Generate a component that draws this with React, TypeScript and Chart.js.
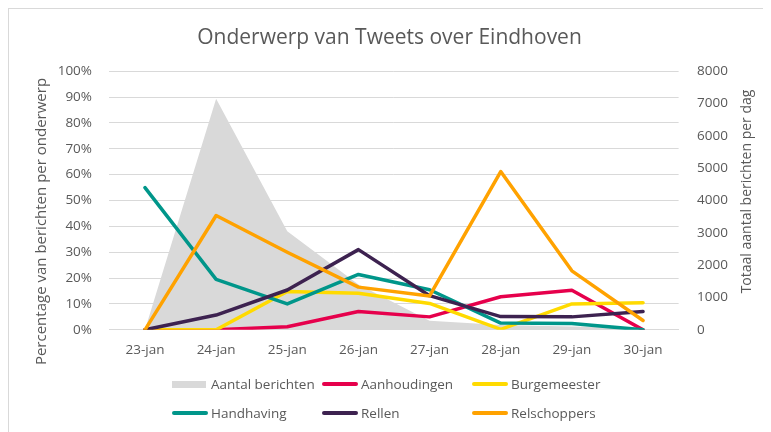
import React, { useEffect, useRef } from "react";
import { Chart, registerables } from "chart.js";

Chart.register(...registerables);

const categories = ["23-jan", "24-jan", "25-jan", "26-jan", "27-jan", "28-jan", "29-jan", "30-jan"];
const aantalBerichten = [0, 7150, 3050, 1400, 280, 150, 100, 60];
const aanhoudingen = [0, 0, 0.012, 0.071, 0.05, 0.128, 0.153, 0];
const burgemeester = [0, 0, 0.148, 0.141, 0.102, 0.002, 0.1, 0.105];
const handhaving = [0.55, 0.195, 0.1, 0.214, 0.155, 0.026, 0.024, 0];
const rellen = [0, 0.057, 0.154, 0.31, 0.132, 0.051, 0.05, 0.071];
const relschoppers = [0, 0.442, 0.3, 0.165, 0.131, 0.612, 0.228, 0.036];
const percentTicks = [0, 0.1, 0.2, 0.3, 0.4, 0.5, 0.6, 0.7, 0.8, 0.9, 1];
const countTicks = [0, 1000, 2000, 3000, 4000, 5000, 6000, 7000, 8000];

const TITLE = "Onderwerp van Tweets over Eindhoven";
const LEFT_TITLE = "Percentage van berichten per onderwerp";
const RIGHT_TITLE = "Totaal aantal berichten per dag";

const FONT = '"Open Sans", "Noto Sans", sans-serif';
const TEXT = "#595959";
const GRID = "#D9D9D9";

const lineSeries = [
  { label: "Aanhoudingen", data: aanhoudingen, color: "#E6004C" },
  { label: "Burgemeester", data: burgemeester, color: "#FFDA00" },
  { label: "Handhaving", data: handhaving, color: "#00968A" },
  { label: "Rellen", data: rellen, color: "#3D2250" },
  { label: "Relschoppers", data: relschoppers, color: "#FFA200" },
];

const legendItems = [
  { label: "Aantal berichten", color: "#D9D9D9", area: true },
  ...lineSeries.map((s) => ({ label: s.label, color: s.color, area: false })),
];

const axisTitlePlugin = {
  id: "axisTitles",
  afterDraw(chart: any) {
    const { ctx, chartArea } = chart;
    const ys = chart.scales.y;
    const y1 = chart.scales.y1;
    const midY = (chartArea.top + chartArea.bottom) / 2;
    ctx.save();
    ctx.fillStyle = TEXT;
    ctx.textAlign = "center";
    ctx.textBaseline = "middle";
    ctx.save();
    ctx.font = `15px ${FONT}`;
    ctx.translate(ys.left + 34, midY + 21);
    ctx.rotate(-Math.PI / 2);
    ctx.fillText(LEFT_TITLE, 0, 0);
    ctx.restore();
    ctx.save();
    ctx.font = `14px ${FONT}`;
    ctx.translate(y1.left + 68, midY - 9);
    ctx.rotate(-Math.PI / 2);
    ctx.fillText(RIGHT_TITLE, 0, 0);
    ctx.restore();
    ctx.restore();
  },
};

export default function App() {
  const ref = useRef<HTMLCanvasElement>(null);

  useEffect(() => {
    if (!ref.current) return;
    const datasets: any[] = [
      {
        type: "line",
        label: "Aantal berichten",
        data: aantalBerichten,
        yAxisID: "y1",
        backgroundColor: "#D9D9D9",
        borderWidth: 0,
        pointRadius: 0,
        fill: "origin",
        order: 10,
      },
      ...lineSeries.map((s, i) => ({
        type: "line",
        label: s.label,
        data: s.data,
        yAxisID: "y",
        borderColor: s.color,
        backgroundColor: s.color,
        borderWidth: 3.5,
        pointRadius: 0,
        fill: false,
        tension: 0,
        borderJoinStyle: "round",
        borderCapStyle: "round",
        order: 5 - i,
      })),
    ];
    const chart = new Chart(ref.current, {
      type: "line",
      data: { labels: categories, datasets },
      plugins: [axisTitlePlugin],
      options: {
        responsive: false,
        animation: false,
        devicePixelRatio: 1,
        layout: { padding: { left: 0, right: 0, top: 0, bottom: 62 } },
        plugins: {
          legend: { display: false },
          tooltip: { enabled: false },
          title: {
            display: true,
            text: TITLE,
            color: TEXT,
            font: { family: FONT, size: 21, weight: "normal" },
            padding: { top: 17, bottom: 21 },
          },
        },
        scales: {
          x: {
            offset: true,
            grid: { display: false, drawTicks: false },
            border: { display: true, color: GRID, width: 1 },
            ticks: { color: TEXT, font: { family: FONT, size: 13.5 }, padding: 12, maxRotation: 0 },
          },
          y: {
            position: "left",
            min: 0,
            max: 1,
            afterFit: (scale: any) => {
              scale.width = 101.4;
            },
            afterBuildTicks: (scale: any) => {
              scale.ticks = percentTicks.map((v) => ({ value: v }));
            },
            grid: { color: GRID, lineWidth: 1, drawTicks: false },
            border: { display: false },
            ticks: {
              color: TEXT,
              font: { family: FONT, size: 13.5 },
              padding: 17.4,
              callback: (v: any) => Math.round(Number(v) * 100) + "%",
            },
          },
          y1: {
            position: "right",
            min: 0,
            max: 8000,
            afterFit: (scale: any) => {
              scale.width = 92.4;
            },
            afterBuildTicks: (scale: any) => {
              scale.ticks = countTicks.map((v) => ({ value: v }));
            },
            grid: { display: false, drawTicks: false },
            border: { display: false },
            ticks: {
              color: TEXT,
              font: { family: FONT, size: 13.5 },
              padding: 18.4,
              callback: (v: any) => String(v),
            },
          },
        },
      } as any,
    });
    return () => chart.destroy();
  }, []);

  return (
    <div style={{ position: "relative", width: 763, height: 424, overflow: "hidden", fontFamily: FONT }}>
      <div
        style={{
          position: "absolute",
          left: 0,
          top: 0,
          width: 900,
          height: 600,
          border: `1px solid ${GRID}`,
          boxSizing: "border-box",
        }}
      />
      <canvas ref={ref} width={763} height={424} style={{ position: "absolute", left: 0, top: 0, width: 763, height: 424 }} />
      <div
        style={{
          position: "absolute",
          left: 164,
          top: 361.5,
          display: "grid",
          gridTemplateColumns: "150px 150px 150px",
          gridAutoRows: "29px",
          fontSize: 13.5,
          color: TEXT,
        }}
      >
        {legendItems.map((it) => (
          <div key={it.label} style={{ display: "flex", alignItems: "center", whiteSpace: "nowrap" }}>
            <span
              style={{
                display: "inline-block",
                width: it.area ? 34 : 36,
                height: it.area ? 7 : 4,
                background: it.color,
                borderRadius: it.area ? 0 : 2,
                marginRight: it.area ? 5 : 3,
              }}
            />
            <span>{it.label}</span>
          </div>
        ))}
      </div>
    </div>
  );
}
